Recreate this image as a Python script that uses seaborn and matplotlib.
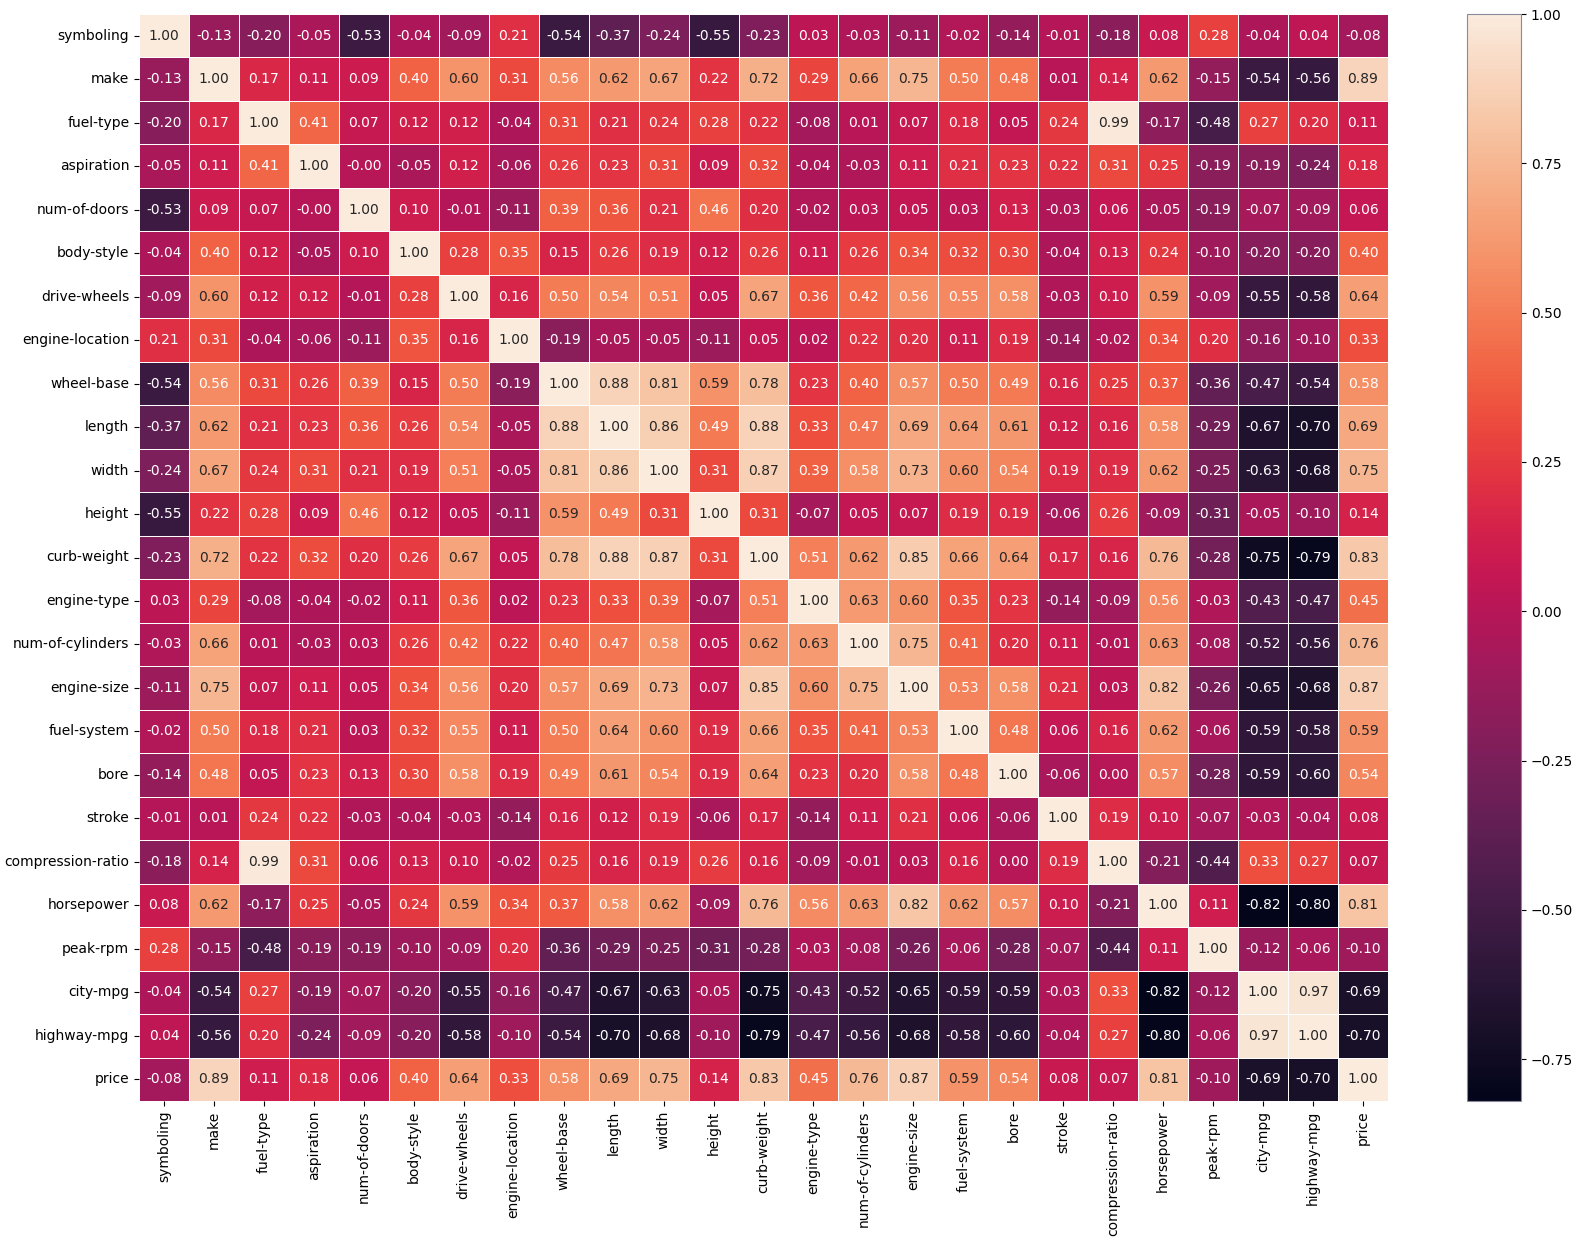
import matplotlib
matplotlib.use("Agg")
import matplotlib.pyplot as plt
import numpy as np
import pandas as pd
import seaborn as sns

features = [
    "symboling", "make", "fuel-type", "aspiration", "num-of-doors", "body-style",
    "drive-wheels", "engine-location", "wheel-base", "length", "width", "height",
    "curb-weight", "engine-type", "num-of-cylinders", "engine-size", "fuel-system",
    "bore", "stroke", "compression-ratio", "horsepower", "peak-rpm", "city-mpg",
    "highway-mpg", "price",
]

# correlation rows (-0.001 prints as "-0.00")
symboling = [1.00, -0.13, -0.20, -0.05, -0.53, -0.04, -0.09, 0.21, -0.54, -0.37, -0.24, -0.55, -0.23, 0.03, -0.03, -0.11, -0.02, -0.14, -0.01, -0.18, 0.08, 0.28, -0.04, 0.04, -0.08]
make = [-0.13, 1.00, 0.17, 0.11, 0.09, 0.40, 0.60, 0.31, 0.56, 0.62, 0.67, 0.22, 0.72, 0.29, 0.66, 0.75, 0.50, 0.48, 0.01, 0.14, 0.62, -0.15, -0.54, -0.56, 0.89]
fuel_type = [-0.20, 0.17, 1.00, 0.41, 0.07, 0.12, 0.12, -0.04, 0.31, 0.21, 0.24, 0.28, 0.22, -0.08, 0.01, 0.07, 0.18, 0.05, 0.24, 0.99, -0.17, -0.48, 0.27, 0.20, 0.11]
aspiration = [-0.05, 0.11, 0.41, 1.00, -0.001, -0.05, 0.12, -0.06, 0.26, 0.23, 0.31, 0.09, 0.32, -0.04, -0.03, 0.11, 0.21, 0.23, 0.22, 0.31, 0.25, -0.19, -0.19, -0.24, 0.18]
num_of_doors = [-0.53, 0.09, 0.07, -0.001, 1.00, 0.10, -0.01, -0.11, 0.39, 0.36, 0.21, 0.46, 0.20, -0.02, 0.03, 0.05, 0.03, 0.13, -0.03, 0.06, -0.05, -0.19, -0.07, -0.09, 0.06]
body_style = [-0.04, 0.40, 0.12, -0.05, 0.10, 1.00, 0.28, 0.35, 0.15, 0.26, 0.19, 0.12, 0.26, 0.11, 0.26, 0.34, 0.32, 0.30, -0.04, 0.13, 0.24, -0.10, -0.20, -0.20, 0.40]
drive_wheels = [-0.09, 0.60, 0.12, 0.12, -0.01, 0.28, 1.00, 0.16, 0.50, 0.54, 0.51, 0.05, 0.67, 0.36, 0.42, 0.56, 0.55, 0.58, -0.03, 0.10, 0.59, -0.09, -0.55, -0.58, 0.64]
engine_location = [0.21, 0.31, -0.04, -0.06, -0.11, 0.35, 0.16, 1.00, -0.19, -0.05, -0.05, -0.11, 0.05, 0.02, 0.22, 0.20, 0.11, 0.19, -0.14, -0.02, 0.34, 0.20, -0.16, -0.10, 0.33]
wheel_base = [-0.54, 0.56, 0.31, 0.26, 0.39, 0.15, 0.50, -0.19, 1.00, 0.88, 0.81, 0.59, 0.78, 0.23, 0.40, 0.57, 0.50, 0.49, 0.16, 0.25, 0.37, -0.36, -0.47, -0.54, 0.58]
length = [-0.37, 0.62, 0.21, 0.23, 0.36, 0.26, 0.54, -0.05, 0.88, 1.00, 0.86, 0.49, 0.88, 0.33, 0.47, 0.69, 0.64, 0.61, 0.12, 0.16, 0.58, -0.29, -0.67, -0.70, 0.69]
width = [-0.24, 0.67, 0.24, 0.31, 0.21, 0.19, 0.51, -0.05, 0.81, 0.86, 1.00, 0.31, 0.87, 0.39, 0.58, 0.73, 0.60, 0.54, 0.19, 0.19, 0.62, -0.25, -0.63, -0.68, 0.75]
height = [-0.55, 0.22, 0.28, 0.09, 0.46, 0.12, 0.05, -0.11, 0.59, 0.49, 0.31, 1.00, 0.31, -0.07, 0.05, 0.07, 0.19, 0.19, -0.06, 0.26, -0.09, -0.31, -0.05, -0.10, 0.14]
curb_weight = [-0.23, 0.72, 0.22, 0.32, 0.20, 0.26, 0.67, 0.05, 0.78, 0.88, 0.87, 0.31, 1.00, 0.51, 0.62, 0.85, 0.66, 0.64, 0.17, 0.16, 0.76, -0.28, -0.75, -0.79, 0.83]
engine_type = [0.03, 0.29, -0.08, -0.04, -0.02, 0.11, 0.36, 0.02, 0.23, 0.33, 0.39, -0.07, 0.51, 1.00, 0.63, 0.60, 0.35, 0.23, -0.14, -0.09, 0.56, -0.03, -0.43, -0.47, 0.45]
num_of_cylinders = [-0.03, 0.66, 0.01, -0.03, 0.03, 0.26, 0.42, 0.22, 0.40, 0.47, 0.58, 0.05, 0.62, 0.63, 1.00, 0.75, 0.41, 0.20, 0.11, -0.01, 0.63, -0.08, -0.52, -0.56, 0.76]
engine_size = [-0.11, 0.75, 0.07, 0.11, 0.05, 0.34, 0.56, 0.20, 0.57, 0.69, 0.73, 0.07, 0.85, 0.60, 0.75, 1.00, 0.53, 0.58, 0.21, 0.03, 0.82, -0.26, -0.65, -0.68, 0.87]
fuel_system = [-0.02, 0.50, 0.18, 0.21, 0.03, 0.32, 0.55, 0.11, 0.50, 0.64, 0.60, 0.19, 0.66, 0.35, 0.41, 0.53, 1.00, 0.48, 0.06, 0.16, 0.62, -0.06, -0.59, -0.58, 0.59]
bore = [-0.14, 0.48, 0.05, 0.23, 0.13, 0.30, 0.58, 0.19, 0.49, 0.61, 0.54, 0.19, 0.64, 0.23, 0.20, 0.58, 0.48, 1.00, -0.06, 0.00, 0.57, -0.28, -0.59, -0.60, 0.54]
stroke = [-0.01, 0.01, 0.24, 0.22, -0.03, -0.04, -0.03, -0.14, 0.16, 0.12, 0.19, -0.06, 0.17, -0.14, 0.11, 0.21, 0.06, -0.06, 1.00, 0.19, 0.10, -0.07, -0.03, -0.04, 0.08]
compression_ratio = [-0.18, 0.14, 0.99, 0.31, 0.06, 0.13, 0.10, -0.02, 0.25, 0.16, 0.19, 0.26, 0.16, -0.09, -0.01, 0.03, 0.16, 0.00, 0.19, 1.00, -0.21, -0.44, 0.33, 0.27, 0.07]
horsepower = [0.08, 0.62, -0.17, 0.25, -0.05, 0.24, 0.59, 0.34, 0.37, 0.58, 0.62, -0.09, 0.76, 0.56, 0.63, 0.82, 0.62, 0.57, 0.10, -0.21, 1.00, 0.11, -0.82, -0.80, 0.81]
peak_rpm = [0.28, -0.15, -0.48, -0.19, -0.19, -0.10, -0.09, 0.20, -0.36, -0.29, -0.25, -0.31, -0.28, -0.03, -0.08, -0.26, -0.06, -0.28, -0.07, -0.44, 0.11, 1.00, -0.12, -0.06, -0.10]
city_mpg = [-0.04, -0.54, 0.27, -0.19, -0.07, -0.20, -0.55, -0.16, -0.47, -0.67, -0.63, -0.05, -0.75, -0.43, -0.52, -0.65, -0.59, -0.59, -0.03, 0.33, -0.82, -0.12, 1.00, 0.97, -0.69]
highway_mpg = [0.04, -0.56, 0.20, -0.24, -0.09, -0.20, -0.58, -0.10, -0.54, -0.70, -0.68, -0.10, -0.79, -0.47, -0.56, -0.68, -0.58, -0.60, -0.04, 0.27, -0.80, -0.06, 0.97, 1.00, -0.70]
price = [-0.08, 0.89, 0.11, 0.18, 0.06, 0.40, 0.64, 0.33, 0.58, 0.69, 0.75, 0.14, 0.83, 0.45, 0.76, 0.87, 0.59, 0.54, 0.08, 0.07, 0.81, -0.10, -0.69, -0.70, 1.00]

rows = [symboling, make, fuel_type, aspiration, num_of_doors, body_style, drive_wheels,
        engine_location, wheel_base, length, width, height, curb_weight, engine_type,
        num_of_cylinders, engine_size, fuel_system, bore, stroke, compression_ratio,
        horsepower, peak_rpm, city_mpg, highway_mpg, price]
corr = pd.DataFrame(rows, index=features, columns=features)

W, H = 1581, 1241
fig = plt.figure(figsize=(W / 100, H / 100), dpi=100)
ax = fig.add_axes([139 / W, 1 - 1101 / H, (1388 - 139) / W, (1101 - 14) / H])
cax = fig.add_axes([1467 / W, 1 - 1101 / H, 54 / W, (1101 - 14) / H])

sns.heatmap(corr, annot=True, fmt=".2f", linewidths=0.5, ax=ax, cbar_ax=cax)
cax.tick_params(labelsize=10)
# thin grey frame round the colour bar, as in the reference
cbar = ax.collections[0].colorbar
cbar.outline.set_visible(True)
cbar.outline.set_linewidth(0.8)
cbar.outline.set_edgecolor("#8a8a9a")

fig.savefig("out.png", dpi=100)
